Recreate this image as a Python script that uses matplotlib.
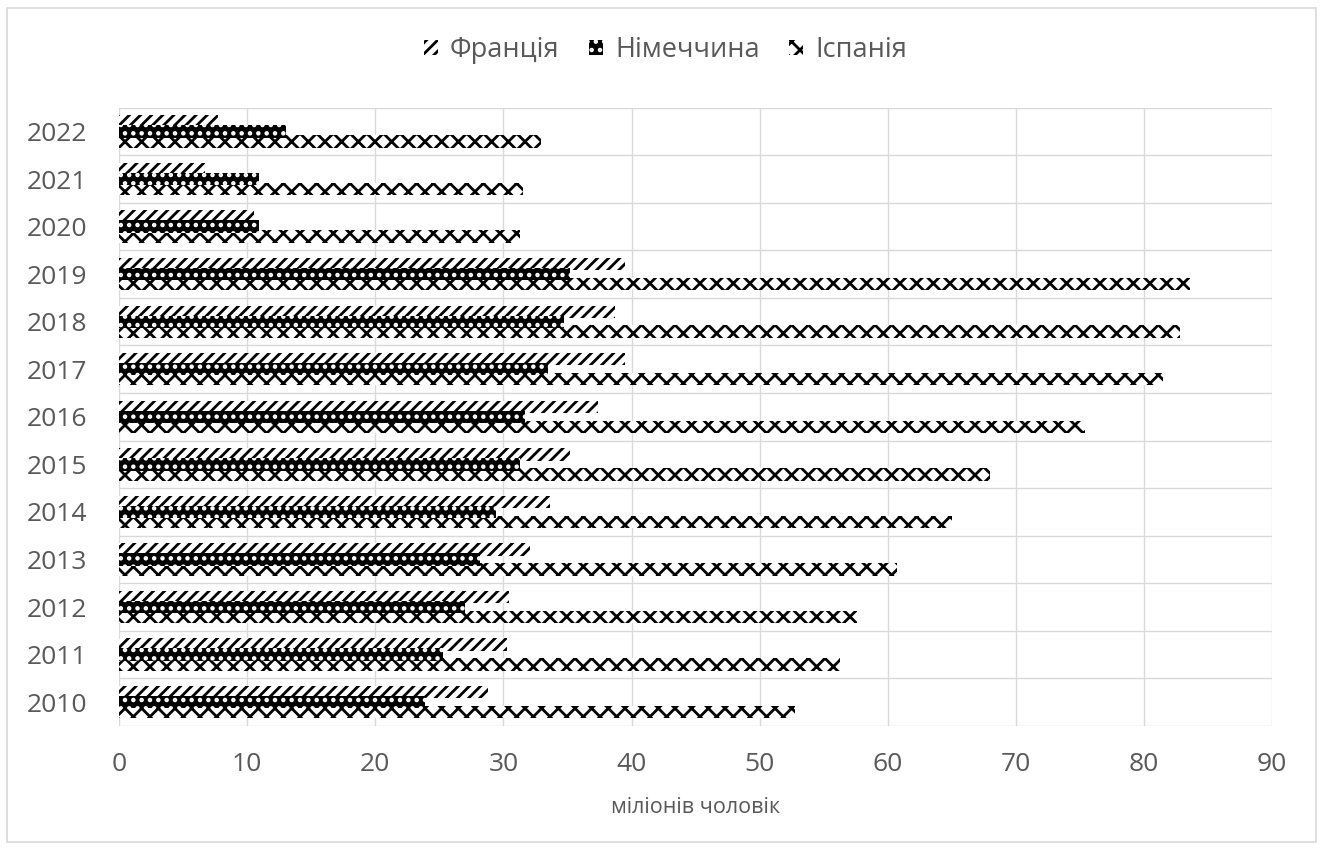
import numpy as np
import matplotlib
matplotlib.use("Agg")
import matplotlib.pyplot as plt
from matplotlib.patches import Patch

plt.rcParams['font.family'] = ['Open Sans', 'DejaVu Sans']
plt.rcParams['hatch.linewidth'] = 2.0

years = ['2010', '2011', '2012', '2013', '2014', '2015', '2016',
         '2017', '2018', '2019', '2020', '2021', '2022']
france = [28.8, 30.3, 30.4, 32.1, 33.6, 35.2, 37.4, 39.5, 38.7, 39.5, 10.5, 6.7, 7.7]
germany = [23.9, 25.3, 27.0, 28.2, 29.4, 31.3, 31.7, 33.5, 34.7, 35.2, 10.9, 10.9, 13.0]
spain = [52.8, 56.3, 57.6, 60.7, 65.0, 68.0, 75.4, 81.5, 82.8, 83.6, 31.3, 31.5, 32.9]
series_names = ['Франція', 'Німеччина', 'Іспанія']

TEXT = '#595959'
GRID = '#d9d9d9'

fig = plt.figure(figsize=(13.23, 8.48), dpi=100)
ax = fig.add_axes([0.090, 0.144, 0.8715, 0.729])

y = np.arange(len(years))
h = 0.26
off = 0.21

# one style per series: white with slashes, black with white dots, white with crosses
styles = [
    dict(facecolor='white', edgecolor='black', hatch='///'),
    dict(facecolor='black', edgecolor='white', hatch='..'),
    dict(facecolor='white', edgecolor='black', hatch='xx'),
]

ax.barh(y + off, france, height=h, linewidth=0, zorder=3, **styles[0])
ax.barh(y, germany, height=h, linewidth=0, zorder=4, **styles[1])
ax.barh(y - off, spain, height=h, linewidth=0, zorder=2, **styles[2])

ax.set_xlim(0, 90)
ax.set_ylim(-0.5, len(years) - 0.5)
ax.set_xticks(np.arange(0, 91, 10))
ax.set_yticks(y)
ax.set_yticklabels(years)
ax.set_yticks(np.arange(-0.5, len(years), 1), minor=True)

ax.grid(axis='x', color=GRID, linewidth=1, zorder=0)
ax.grid(axis='y', which='minor', color=GRID, linewidth=1, zorder=0)
ax.tick_params(axis='both', which='both', length=0, colors=TEXT, labelsize=19)
ax.tick_params(axis='x', pad=19)
ax.tick_params(axis='y', pad=23)
for s in ax.spines.values():
    s.set_visible(False)

ax.set_xlabel('міліонів чоловік', fontsize=15.5, color=TEXT, labelpad=14)

handles = [Patch(linewidth=0, **st) for st in styles]
fig.legend(handles, series_names, loc='center', bbox_to_anchor=(0.503, 0.941),
           ncol=3, frameon=False, fontsize=19.5, labelcolor=TEXT,
           handlelength=0.5, handleheight=0.5, handletextpad=0.45, columnspacing=1.1)

# outer chart border
fig.patches.append(plt.Rectangle((0.005, 0.007), 0.99, 0.983, transform=fig.transFigure,
                                 fill=False, edgecolor='#d9d9d9', linewidth=1.2))

fig.savefig('out.png', dpi=100, facecolor='white')
